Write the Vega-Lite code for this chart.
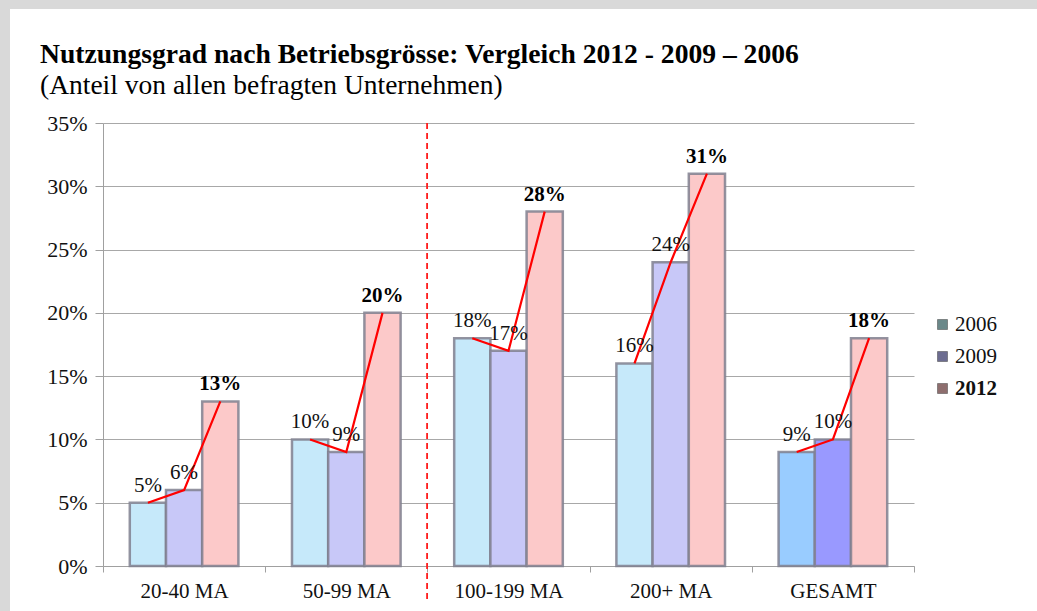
{
  "$schema": "https://vega.github.io/schema/vega-lite/v6.json",
  "width": 1027,
  "height": 602,
  "autosize": {"type": "none"},
  "padding": {"left": 10, "top": 9, "right": 0, "bottom": 0},
  "background": "#d9d9d9",
  "config": {"view": {"fill": "white", "stroke": null}, "font": "Liberation Serif"},
  "title": {
    "text": "Nutzungsgrad nach Betriebsgrösse: Vergleich 2012 - 2009 – 2006",
    "subtitle": "(Anteil von allen befragten Unternehmen)",
    "anchor": "start",
    "frame": "group",
    "orient": "top",
    "offset": 0,
    "dx": 30,
    "dy": 90,
    "font": "Liberation Serif",
    "fontSize": 27.6,
    "fontWeight": "bold",
    "color": "#000000",
    "subtitleFont": "Liberation Serif",
    "subtitleFontSize": 27.5,
    "subtitleColor": "#000000",
    "subtitlePadding": 3
  },
  "data": {
    "values": [
      {"cat": "20-40 MA", "year": "2006", "value": 0.05},
      {"cat": "20-40 MA", "year": "2009", "value": 0.06},
      {"cat": "20-40 MA", "year": "2012", "value": 0.13},
      {"cat": "50-99 MA", "year": "2006", "value": 0.10},
      {"cat": "50-99 MA", "year": "2009", "value": 0.09},
      {"cat": "50-99 MA", "year": "2012", "value": 0.20},
      {"cat": "100-199 MA", "year": "2006", "value": 0.18},
      {"cat": "100-199 MA", "year": "2009", "value": 0.17},
      {"cat": "100-199 MA", "year": "2012", "value": 0.28},
      {"cat": "200+ MA", "year": "2006", "value": 0.16},
      {"cat": "200+ MA", "year": "2009", "value": 0.24},
      {"cat": "200+ MA", "year": "2012", "value": 0.31},
      {"cat": "GESAMT", "year": "2006", "value": 0.09},
      {"cat": "GESAMT", "year": "2009", "value": 0.10},
      {"cat": "GESAMT", "year": "2012", "value": 0.18}
    ]
  },
  "encoding": {
    "x": {
      "field": "cat",
      "type": "nominal",
      "sort": ["20-40 MA", "50-99 MA", "100-199 MA", "200+ MA", "GESAMT"],
      "scale": {"range": [93, 904], "paddingInner": 0, "paddingOuter": 0},
      "axis": {
        "title": null,
        "orient": "bottom",
        "offset": -45,
        "labelAngle": 0,
        "tickBand": "extent",
        "tickSize": 6,
        "tickColor": "#a0a0a0",
        "domainColor": "#a0a0a0",
        "labelFont": "Liberation Serif",
        "labelFontSize": 21,
        "labelColor": "#111111",
        "labelPadding": 8,
        "grid": false
      }
    },
    "y": {
      "field": "value",
      "type": "quantitative",
      "scale": {"domain": [0, 0.35], "range": [557, 114], "nice": false, "zero": true},
      "axis": {
        "title": null,
        "orient": "left",
        "offset": -93,
        "values": [0, 0.05, 0.1, 0.15, 0.2, 0.25, 0.3, 0.35],
        "format": ".0%",
        "tickSize": 8,
        "tickColor": "#a0a0a0",
        "domainColor": "#a0a0a0",
        "gridColor": "#a8a8a8",
        "grid": true,
        "labelFont": "Liberation Serif",
        "labelFontSize": 22,
        "labelColor": "#111111",
        "labelPadding": 8
      }
    }
  },
  "layer": [
    {
      "mark": {"type": "bar", "stroke": "#80808f", "strokeWidth": 2.5, "strokeOpacity": 0.85},
      "encoding": {
        "xOffset": {"field": "year", "type": "nominal", "scale": {"paddingInner": 0, "paddingOuter": 0.74}},
        "color": {
          "field": "year",
          "type": "nominal",
          "scale": {"domain": ["2006", "2009", "2012"], "range": ["#6a8889", "#6c6c90", "#8e6e6e"]},
          "condition": [
            {"test": "datum.cat === 'GESAMT' && datum.year === '2006'", "value": "#99ccff"},
            {"test": "datum.cat === 'GESAMT' && datum.year === '2009'", "value": "#9999ff"},
            {"test": "datum.year === '2006'", "value": "#c6e9fa"},
            {"test": "datum.year === '2009'", "value": "#c8c8f8"},
            {"test": "datum.year === '2012'", "value": "#fcc9c9"}
          ],
          "legend": {
            "orient": "none",
            "legendX": 922,
            "legendY": 305,
            "title": null,
            "symbolType": "square",
            "symbolSize": 100,
            "symbolStrokeWidth": 0.5,
            "symbolStrokeColor": "#444444",
            "labelFont": "Liberation Serif",
            "labelFontSize": 21,
            "labelColor": "#111111",
            "labelOffset": 2,
            "rowPadding": 10,
            "encode": {
              "labels": {"update": {"fontWeight": {"signal": "datum.label === '2012' ? 'bold' : 'normal'"}}}
            }
          }
        }
      }
    },
    {
      "mark": {"type": "line", "color": "#ff0000", "strokeWidth": 2.2},
      "encoding": {
        "xOffset": {"field": "year", "type": "nominal"},
        "detail": {"field": "cat"},
        "order": {"field": "year", "type": "ordinal"}
      }
    },
    {
      "transform": [{"filter": "datum.year !== '2012'"}],
      "mark": {"type": "text", "baseline": "bottom", "dy": -7, "font": "Liberation Serif", "fontSize": 21, "color": "#111111"},
      "encoding": {
        "xOffset": {"field": "year", "type": "nominal"},
        "text": {"field": "value", "type": "quantitative", "format": ".0%"}
      }
    },
    {
      "transform": [{"filter": "datum.year === '2012'"}],
      "mark": {"type": "text", "baseline": "bottom", "dy": -7, "font": "Liberation Serif", "fontSize": 21, "fontWeight": "bold", "color": "#000000"},
      "encoding": {
        "xOffset": {"field": "year", "type": "nominal"},
        "text": {"field": "value", "type": "quantitative", "format": ".0%"}
      }
    },
    {
      "mark": {"type": "rule", "color": "#ff2020", "strokeWidth": 1, "strokeDash": [6, 4]},
      "encoding": {
        "x": {"datum": "100-199 MA", "bandPosition": 0},
        "y": {"datum": 0.35},
        "y2": {"datum": -0.027}
      }
    }
  ]
}
